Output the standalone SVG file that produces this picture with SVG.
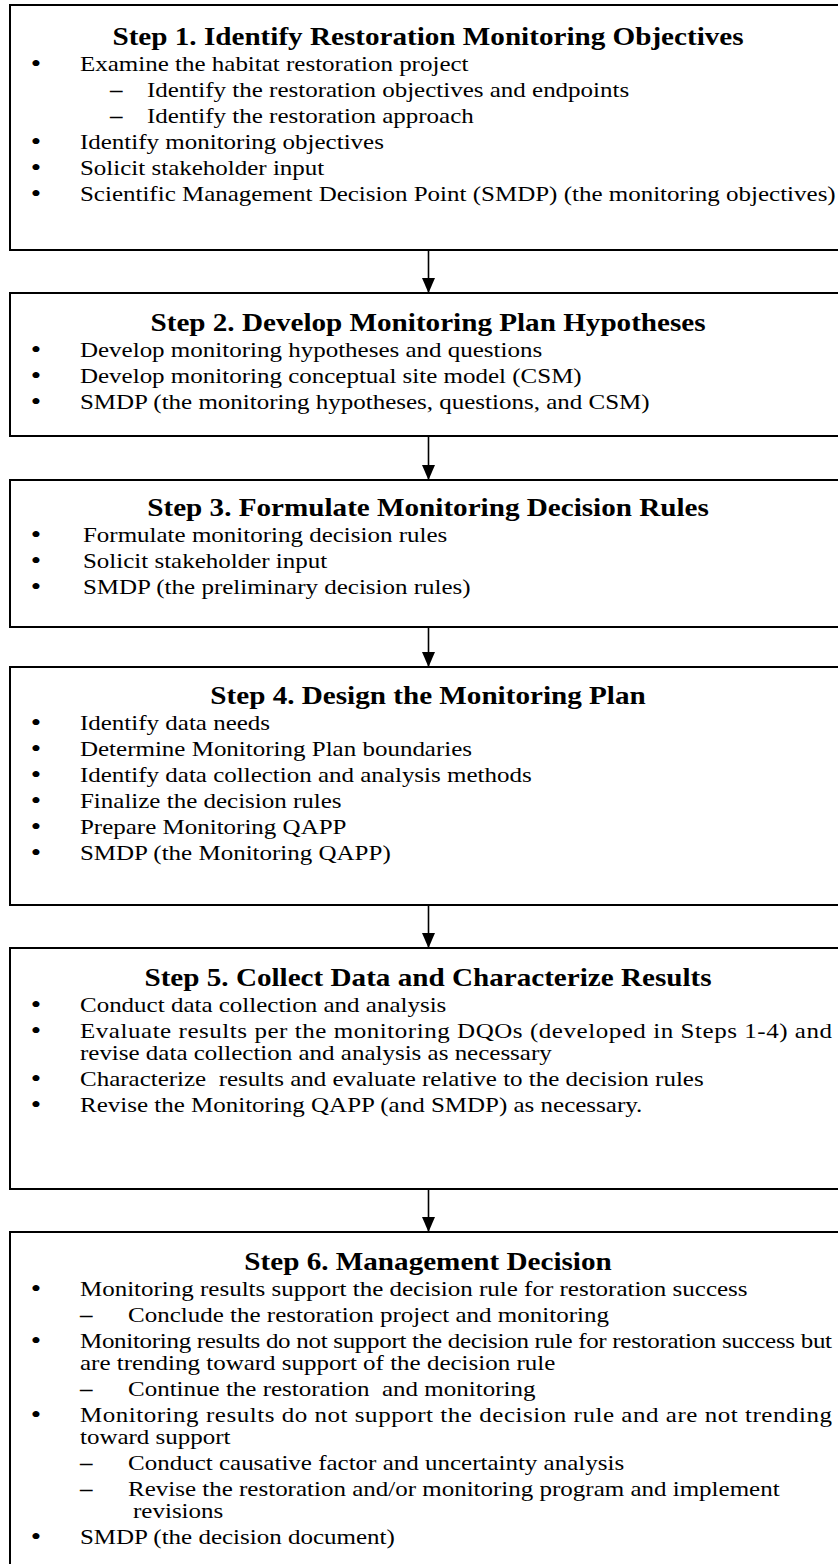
<svg xmlns="http://www.w3.org/2000/svg" width="838" height="1564" viewBox="0 0 838 1564">
<style>
.box{fill:#fff;stroke:#000;stroke-width:2}
.t{font-family:"Liberation Serif","Times New Roman",serif;font-size:21px;fill:#000}
.h{font-family:"Liberation Serif","Times New Roman",serif;font-size:24.5px;font-weight:bold;fill:#000;text-anchor:middle}
.b{text-anchor:middle;font-size:25px}
.d{font-weight:bold}
.conn{stroke:#000;stroke-width:1.6;fill:none;marker-end:url(#ah)}
</style>
<defs>
<marker id="ah" markerUnits="userSpaceOnUse" markerWidth="16" markerHeight="14" refX="15" refY="6.5" orient="auto">
<path d="M0,0 L15,6.5 L0,13 z" fill="#000"/>
</marker>
</defs>
<rect width="838" height="1564" fill="#fff"/>

<g id="step1">
<rect class="box" x="10" y="5" width="840" height="245"/>
<g transform="scale(1.19,1)">
<text class="h" x="359.7" y="45">Step 1. Identify Restoration Monitoring Objectives</text>
<text class="t b" x="30.25" y="72">•</text><text class="t" x="67.2" y="71">Examine the habitat restoration project</text>
<text class="t d" x="92.4" y="97">–</text><text class="t" x="123.5" y="97">Identify the restoration objectives and endpoints</text>
<text class="t d" x="92.4" y="123">–</text><text class="t" x="123.5" y="123">Identify the restoration approach</text>
<text class="t b" x="30.25" y="150">•</text><text class="t" x="67.2" y="149">Identify monitoring objectives</text>
<text class="t b" x="30.25" y="176">•</text><text class="t" x="67.2" y="175">Solicit stakeholder input</text>
<text class="t b" x="30.25" y="202">•</text><text class="t" x="67.2" y="201">Scientific Management Decision Point (SMDP) (the monitoring objectives)</text>
</g>
</g>

<g id="step2">
<rect class="box" x="10" y="293" width="840" height="143"/>
<g transform="scale(1.19,1)">
<text class="h" x="359.7" y="331">Step 2. Develop Monitoring Plan Hypotheses</text>
<text class="t b" x="30.25" y="358">•</text><text class="t" x="67.2" y="357">Develop monitoring hypotheses and questions</text>
<text class="t b" x="30.25" y="384">•</text><text class="t" x="67.2" y="383">Develop monitoring conceptual site model (CSM)</text>
<text class="t b" x="30.25" y="410">•</text><text class="t" x="67.2" y="409">SMDP (the monitoring hypotheses, questions, and CSM)</text>
</g>
</g>

<g id="step3">
<rect class="box" x="10" y="480" width="840" height="147"/>
<g transform="scale(1.19,1)">
<text class="h" x="359.7" y="516">Step 3. Formulate Monitoring Decision Rules</text>
<text class="t b" x="30.25" y="543">•</text><text class="t" x="69.7" y="542">Formulate monitoring decision rules</text>
<text class="t b" x="30.25" y="569">•</text><text class="t" x="69.7" y="568">Solicit stakeholder input</text>
<text class="t b" x="30.25" y="595">•</text><text class="t" x="69.7" y="594">SMDP (the preliminary decision rules)</text>
</g>
</g>

<g id="step4">
<rect class="box" x="10" y="667" width="840" height="238"/>
<g transform="scale(1.19,1)">
<text class="h" x="359.7" y="704">Step 4. Design the Monitoring Plan</text>
<text class="t b" x="30.25" y="731">•</text><text class="t" x="67.2" y="730">Identify data needs</text>
<text class="t b" x="30.25" y="757">•</text><text class="t" x="67.2" y="756">Determine Monitoring Plan boundaries</text>
<text class="t b" x="30.25" y="783">•</text><text class="t" x="67.2" y="782">Identify data collection and analysis methods</text>
<text class="t b" x="30.25" y="809">•</text><text class="t" x="67.2" y="808">Finalize the decision rules</text>
<text class="t b" x="30.25" y="835">•</text><text class="t" x="67.2" y="834">Prepare Monitoring QAPP</text>
<text class="t b" x="30.25" y="861">•</text><text class="t" x="67.2" y="860">SMDP (the Monitoring QAPP)</text>
</g>
</g>

<g id="step5">
<rect class="box" x="10" y="948" width="840" height="241"/>
<g transform="scale(1.19,1)">
<text class="h" x="359.7" y="986">Step 5. Collect Data and Characterize Results</text>
<text class="t b" x="30.25" y="1013">•</text><text class="t" x="67.2" y="1012">Conduct data collection and analysis</text>
<text class="t b" x="30.25" y="1039">•</text><text class="t" x="67.2" y="1038" textLength="632" lengthAdjust="spacing">Evaluate results per the monitoring DQOs (developed in Steps 1-4) and</text>
<text class="t" x="67.2" y="1060">revise data collection and analysis as necessary</text>
<text class="t b" x="30.25" y="1087">•</text><text class="t" x="67.2" y="1086" xml:space="preserve">Characterize  results and evaluate relative to the decision rules</text>
<text class="t b" x="30.25" y="1113">•</text><text class="t" x="67.2" y="1112">Revise the Monitoring QAPP (and SMDP) as necessary.</text>
</g>
</g>

<g id="step6">
<rect class="box" x="10" y="1232" width="840" height="342"/>
<g transform="scale(1.19,1)">
<text class="h" x="359.7" y="1270">Step 6. Management Decision</text>
<text class="t b" x="30.25" y="1297">•</text><text class="t" x="67.2" y="1296">Monitoring results support the decision rule for restoration success</text>
<text class="t d" x="67.2" y="1322">–</text><text class="t" x="107.6" y="1322">Conclude the restoration project and monitoring</text>
<text class="t b" x="30.25" y="1349">•</text><text class="t" x="67.2" y="1348" textLength="632" lengthAdjust="spacing">Monitoring results do not support the decision rule for restoration success but</text>
<text class="t" x="67.2" y="1370">are trending toward support of the decision rule</text>
<text class="t d" x="67.2" y="1396">–</text><text class="t" x="107.6" y="1396" xml:space="preserve">Continue the restoration  and monitoring</text>
<text class="t b" x="30.25" y="1423">•</text><text class="t" x="67.2" y="1422" textLength="632" lengthAdjust="spacing">Monitoring results do not support the decision rule and are not trending</text>
<text class="t" x="67.2" y="1444">toward support</text>
<text class="t d" x="67.2" y="1470">–</text><text class="t" x="107.6" y="1470">Conduct causative factor and uncertainty analysis</text>
<text class="t d" x="67.2" y="1496">–</text><text class="t" x="107.6" y="1496">Revise the restoration and/or monitoring program and implement</text>
<text class="t" x="111.8" y="1518">revisions</text>
<text class="t b" x="30.25" y="1545">•</text><text class="t" x="67.2" y="1544">SMDP (the decision document)</text>
</g>
</g>

<g id="connectors">
<line class="conn" x1="428.5" y1="250" x2="428.5" y2="293"/>
<line class="conn" x1="428.5" y1="436" x2="428.5" y2="480"/>
<line class="conn" x1="428.5" y1="627" x2="428.5" y2="667"/>
<line class="conn" x1="428.5" y1="905" x2="428.5" y2="948"/>
<line class="conn" x1="428.5" y1="1189" x2="428.5" y2="1232"/>
</g>
</svg>
